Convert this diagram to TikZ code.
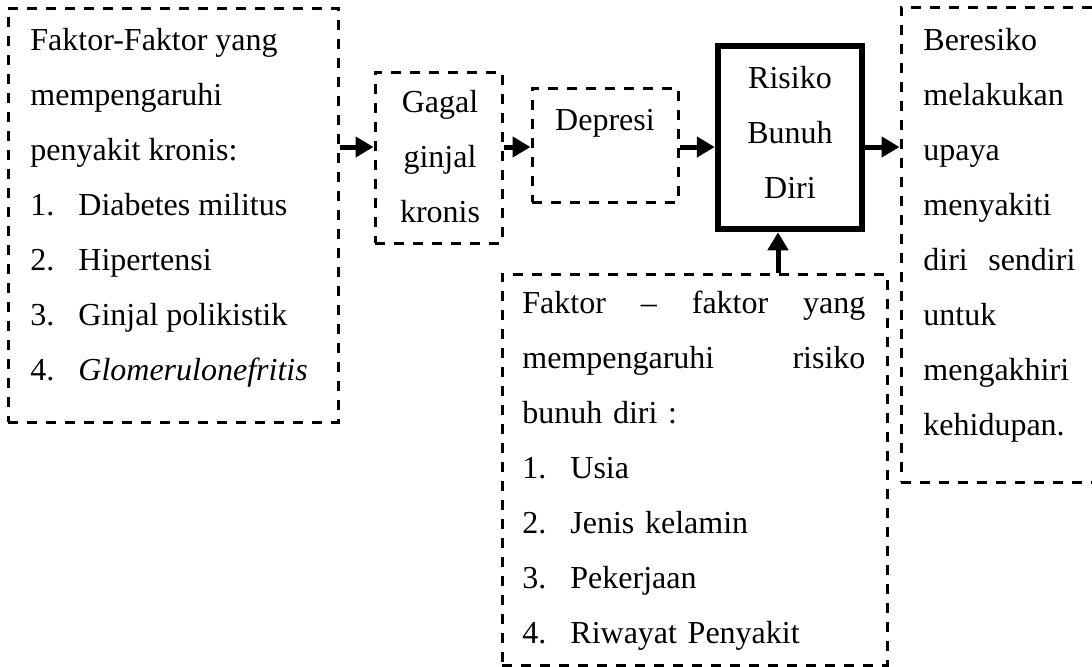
\documentclass[tikz,border=0pt]{standalone}
\usepackage{fontspec}
\setmainfont{Liberation Serif}
\usetikzlibrary{arrows.meta}

\newcommand{\nomor}[1]{\makebox[24pt][l]{#1}}

\begin{document}
\begin{tikzpicture}[x=0.5pt,y=-0.5pt,
	every node/.style={font=\fontsize{16}{27.5}\selectfont},
	kotak/.style={draw,dash pattern=on 5pt off 4.5pt,line width=1.5pt,inner sep=0pt},
	teks/.style={inner sep=0pt,align=left},
	panah/.style={-{Triangle[length=9pt,width=10pt]},line width=2.5pt}]
	\path[use as bounding box] (0,0) rectangle (1092,666);
	\clip (0,0) rectangle (1092,666);
	
	% kotak-kotak
	\node[kotak,minimum width=165pt,minimum height=207pt] (faktor) at (173,215) {};
	\node[kotak,minimum width=63.5pt,minimum height=85.5pt] (gagal) at (438.5,157.5) {};
	\node[kotak,minimum width=73pt,minimum height=57pt] (depresi) at (605,145) {};
	\node[draw,line width=3.25pt,minimum width=72pt,minimum height=91.5pt] (risiko) at (790,137.5) {};
	\node[kotak,minimum width=100pt,minimum height=237.5pt] (akibat) at (1001,244.5) {};
	\node[kotak,minimum width=192.5pt,minimum height=195.5pt] (faktorRisiko) at (694.5,469.5) {};
	
	% teks
	\node[teks,anchor=north west] (faktorTeks) at (30,28) {Faktor-Faktor yang\\
		mempengaruhi\\
		penyakit kronis:\\
		\nomor{1.}Diabetes militus\\
		\nomor{2.}Hipertensi\\
		\nomor{3.}Ginjal polikistik\\
		\nomor{4.}\textit{Glomerulonefritis}};
	\node[teks,align=center,anchor=north] (gagalTeks) at (440,90) {Gagal\\ginjal\\kronis};
	\node[teks,anchor=base] (depresiTeks) at (605,130) {Depresi};
	\node[teks,align=center,anchor=north] (risikoTeks) at (790,66) {Risiko\\Bunuh\\Diri};
	\node[teks,text width=76pt,anchor=north west] (akibatTeks) at (923,28) {Beresiko\\
		melakukan\\
		upaya\\
		menyakiti\\
		diri \hfill sendiri\\
		untuk\\
		mengakhiri\\
		kehidupan.};
	\node[teks,text width=171.5pt,anchor=north west] (faktorRisikoTeks) at (522,291) {Faktor \hfill -- \hfill faktor \hfill yang\\
		mempengaruhi \hfill risiko\\
		bunuh diri :\\
		\nomor{1.}Usia\\
		\nomor{2.}Jenis kelamin\\
		\nomor{3.}Pekerjaan\\
		\nomor{4.}Riwayat Penyakit};
	
	% panah
	\coordinate (jalur) at (0,147);
	\coordinate (tegak) at (778,0);
	\draw[panah] (faktor.east |- jalur) -- (gagal.west |- jalur);
	\draw[panah] (gagal.east |- jalur) -- (depresi.west |- jalur);
	\draw[panah] (depresi.east |- jalur) -- (risiko.west |- jalur);
	\draw[panah] (risiko.east |- jalur) -- (akibat.west |- jalur);
	\draw[panah] (faktorRisiko.north -| tegak) -- (risiko.south -| tegak);
\end{tikzpicture}
\end{document}
